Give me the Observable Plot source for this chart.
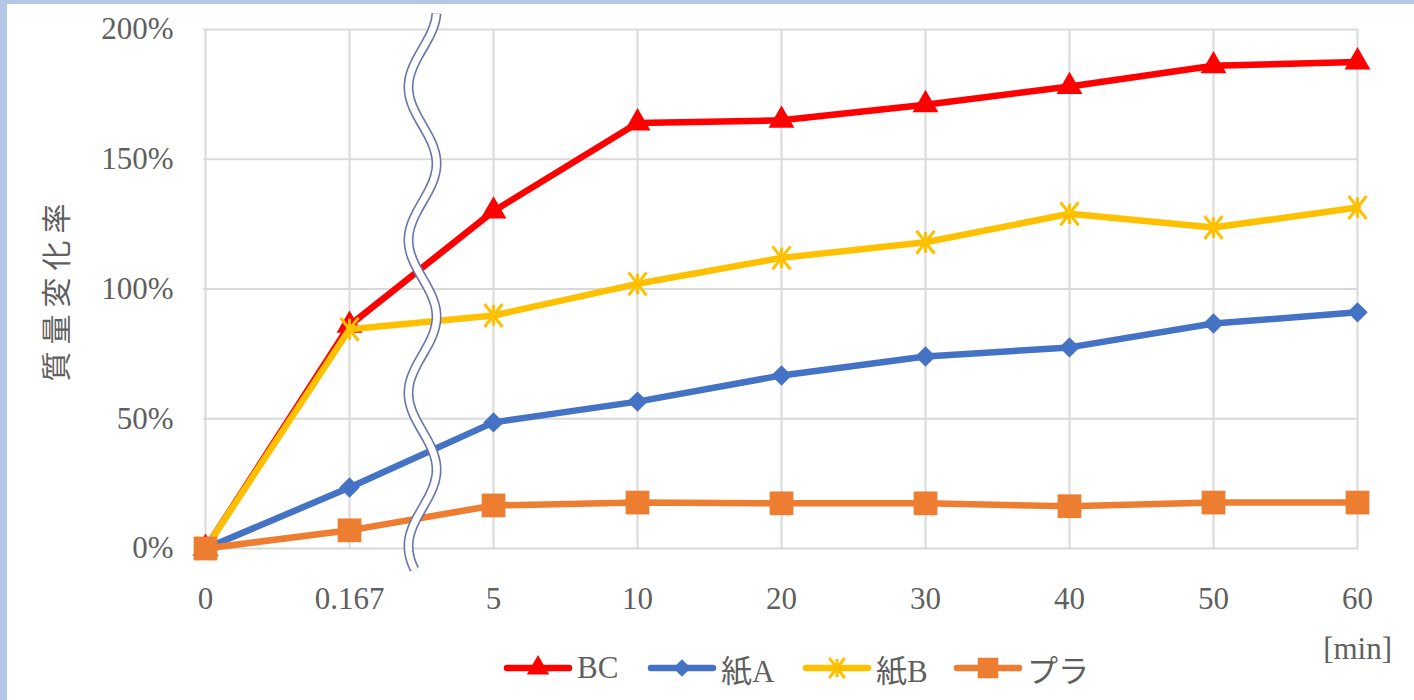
<!DOCTYPE html>
<html>
<head>
<meta charset="utf-8">
<script src="https://cdn.jsdelivr.net/npm/d3@7"></script>
<script src="https://cdn.jsdelivr.net/npm/@observablehq/plot@0.6"></script>
<style>
  html, body { margin: 0; padding: 0; }
  body { width: 1414px; height: 700px; background: #b4c7e7; position: relative; overflow: hidden; }
  #panel { position: absolute; left: 7px; top: 4px; width: 1407px; height: 696px; background: #ffffff; }
  #chart { position: absolute; left: 0; top: 0; }
  #ylabel { position: absolute; left: 47px; top: 285px; transform: translate(-50%, -50%) rotate(-90deg);
            font-family: "Noto Sans CJK JP", sans-serif; font-size: 30px; color: #5f5f5f; letter-spacing: 7px; white-space: nowrap; }
  #unit { position: absolute; right: 22px; top: 627px; font-family: "Liberation Serif", serif; font-size: 31px; color: #5f5f5f; line-height: 36px; }
  .legend-item { position: absolute; top: 648px; display: flex; align-items: center; height: 32px;
                 font-family: "Liberation Serif", "Noto Sans CJK JP", serif; font-size: 31px; color: #5f5f5f; }
  .legend-item svg { margin-right: 4px; }
</style>
</head>
<body>
<div id="panel">
  <div id="chart"></div>
  <div id="ylabel">質量変化率</div>
  <div id="unit">[min]</div>
  <div id="legend"></div>
</div>
<script>
// ---- data ----
const times = ["0", "0.167", "5", "10", "20", "30", "40", "50", "60"];
const seriesNames = ["BC", "紙A", "紙B", "プラ"];
const bcValues     = [0, 86, 130, 164, 165, 171, 178, 186, 187.5];
const paperAValues = [0, 23.5, 48.6, 56.6, 66.7, 74, 77.5, 86.7, 91];
const paperBValues = [0, 84.5, 89.8, 102, 112, 118, 129, 123.7, 131.4];
const plaValues    = [0, 7, 16.6, 17.7, 17.4, 17.4, 16.3, 17.7, 17.7];
const yTicks = [0, 50, 100, 150, 200];

// ---- styles ----
const seriesValues = [bcValues, paperAValues, paperBValues, plaValues];
const seriesColors = ["#ff0000", "#4472c4", "#ffc000", "#ed7d31"];
const starSymbol = {
  draw(ctx, size) {
    const r = Math.sqrt(size / Math.PI);
    const a = r * 0.78;
    ctx.moveTo(-a, -r); ctx.lineTo(a, r);
    ctx.moveTo(a, -r); ctx.lineTo(-a, r);
    ctx.moveTo(0, -r * 0.9); ctx.lineTo(0, r * 0.9);
  }
};
const seriesSymbols = ["triangle", "diamond2", starSymbol, "square"];
const seriesRadius = [9.6, 9.2, 11.5, 13.4];
const seriesFilled = [true, true, false, true];

const gridColor = "#d9d9d9";
const textColor = "#5f5f5f";

function breakMark(index, scales) {
  const x = scales.x, y = scales.y;
  const cx = (x("0.167") + x("5")) / 2 + 1.5;
  const y0 = y(206), y1 = y(-8.6), yLeft = y(177.6);
  const pts = d3.range(y0, y1 + 0.1, 2).map(py => [cx - 14 * Math.cos(2 * Math.PI * (py - yLeft) / 153), py]);
  const p = d3.line()(pts);
  const g = d3.create("svg:g");
  g.append("path").attr("d", p).attr("fill", "none").attr("stroke", "#6875ad").attr("stroke-width", 10);
  g.append("path").attr("d", p).attr("fill", "none").attr("stroke", "#ffffff").attr("stroke-width", 6.8);
  return g.node();
}

const marks = [
  Plot.gridY(yTicks, { stroke: gridColor, strokeOpacity: 1, strokeWidth: 2 }),
  Plot.gridX(times, { stroke: gridColor, strokeOpacity: 1, strokeWidth: 2 }),
  Plot.axisY(yTicks, { tickSize: 0, tickPadding: 30, tickFormat: d => d + "%", label: null, fontSize: 31, fill: textColor }),
  Plot.axisX(times, { tickSize: 0, tickPadding: 38, label: null, fontSize: 31, fill: textColor })
];

seriesNames.forEach((name, i) => {
  const rows = times.map((t, j) => ({ t, v: seriesValues[i][j], series: name }));
  marks.push(Plot.line(rows, { x: "t", y: "v", stroke: seriesColors[i], strokeWidth: 6.5, strokeLinejoin: "round", strokeLinecap: "round" }));
  marks.push(Plot.dot(rows, {
    x: "t", y: "v", symbol: seriesSymbols[i], r: seriesRadius[i],
    fill: seriesFilled[i] ? seriesColors[i] : "none",
    stroke: seriesFilled[i] ? "none" : seriesColors[i],
    strokeWidth: seriesFilled[i] ? 0 : 3
  }));
});
marks.push(breakMark);

const chart = Plot.plot({
  width: 1407,
  height: 620,
  marginLeft: 196,
  marginRight: 56,
  marginTop: 25,
  marginBottom: 76,
  style: { fontFamily: "Liberation Serif, serif", fontSize: "31px", color: textColor, background: "transparent", overflow: "visible" },
  x: { type: "point", domain: times, padding: 0 },
  y: { domain: [0, 200] },
  marks
});
document.getElementById("chart").appendChild(chart);

// ---- legend ----
const legendLeft = [496, 640, 795, 946];
const legend = document.getElementById("legend");
seriesNames.forEach((name, i) => {
  const item = document.createElement("div");
  item.className = "legend-item";
  item.style.left = legendLeft[i] + "px";
  const svg = d3.create("svg").attr("width", 70).attr("height", 32);
  svg.append("line").attr("x1", 4).attr("x2", 66).attr("y1", 16).attr("y2", 16)
    .attr("stroke", seriesColors[i]).attr("stroke-width", 6.5).attr("stroke-linecap", "round");
  const r = seriesRadius[i];
  const sym = typeof seriesSymbols[i] === "string"
    ? { triangle: d3.symbolTriangle, diamond2: d3.symbolDiamond2, square: d3.symbolSquare }[seriesSymbols[i]]
    : seriesSymbols[i];
  svg.append("path").attr("transform", "translate(35,16)")
    .attr("d", d3.symbol(sym, Math.PI * r * r * 0.75)())
    .attr("fill", seriesFilled[i] ? seriesColors[i] : "none")
    .attr("stroke", seriesFilled[i] ? "none" : seriesColors[i])
    .attr("stroke-width", seriesFilled[i] ? 0 : 3);
  item.appendChild(svg.node());
  const span = document.createElement("span");
  span.textContent = name;
  item.appendChild(span);
  legend.appendChild(item);
});
</script>
</body>
</html>
